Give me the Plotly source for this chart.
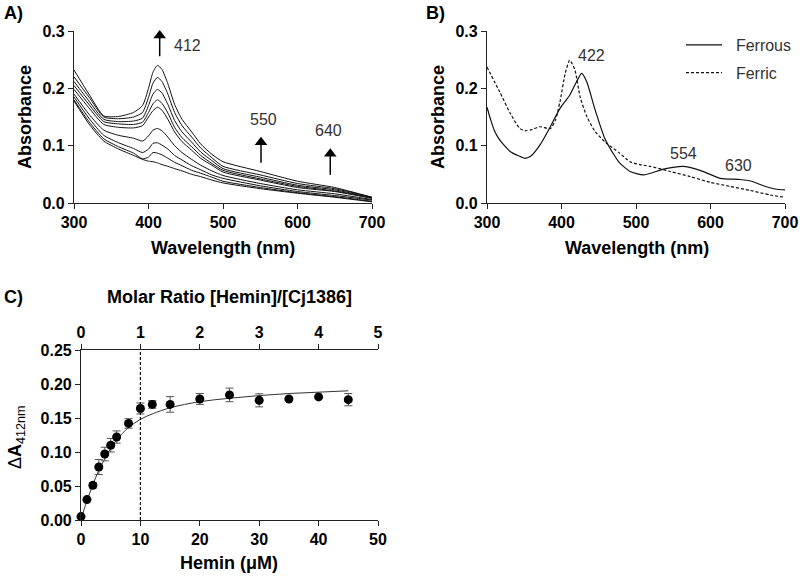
import plotly.graph_objects as go

# ---------------- Panel A: hemin titration spectra ----------------
wavelength_a = [300, 320, 340, 360, 380, 392, 400, 406, 412, 418, 426, 435, 445, 458, 470, 485, 500, 550, 600, 650, 700]
spectrum_1 = [0.178, 0.138, 0.108, 0.094, 0.083, 0.076, 0.073, 0.072, 0.070, 0.067, 0.064, 0.060, 0.056, 0.050, 0.046, 0.040, 0.035, 0.025, 0.017, 0.010, 0.002]
spectrum_2 = [0.180, 0.142, 0.112, 0.098, 0.087, 0.077, 0.080, 0.088, 0.087, 0.084, 0.078, 0.071, 0.065, 0.057, 0.052, 0.045, 0.038, 0.027, 0.018, 0.011, 0.003]
spectrum_3 = [0.185, 0.148, 0.118, 0.105, 0.095, 0.088, 0.094, 0.104, 0.105, 0.101, 0.094, 0.083, 0.075, 0.065, 0.058, 0.049, 0.043, 0.030, 0.020, 0.013, 0.005]
spectrum_4 = [0.190, 0.155, 0.127, 0.118, 0.113, 0.108, 0.117, 0.127, 0.130, 0.126, 0.115, 0.100, 0.088, 0.076, 0.066, 0.056, 0.048, 0.034, 0.023, 0.016, 0.006]
spectrum_5 = [0.198, 0.166, 0.137, 0.132, 0.131, 0.135, 0.150, 0.161, 0.167, 0.162, 0.146, 0.124, 0.107, 0.092, 0.078, 0.066, 0.054, 0.040, 0.027, 0.020, 0.008]
spectrum_6 = [0.205, 0.172, 0.142, 0.138, 0.137, 0.141, 0.158, 0.173, 0.180, 0.174, 0.157, 0.132, 0.114, 0.098, 0.083, 0.069, 0.057, 0.042, 0.029, 0.021, 0.009]
spectrum_7 = [0.212, 0.178, 0.146, 0.142, 0.143, 0.148, 0.170, 0.190, 0.198, 0.192, 0.172, 0.144, 0.124, 0.106, 0.089, 0.074, 0.060, 0.045, 0.031, 0.023, 0.009]
spectrum_8 = [0.220, 0.185, 0.150, 0.147, 0.150, 0.158, 0.184, 0.209, 0.219, 0.212, 0.190, 0.158, 0.135, 0.115, 0.096, 0.079, 0.064, 0.049, 0.034, 0.025, 0.010]
spectrum_9 = [0.232, 0.190, 0.152, 0.151, 0.158, 0.170, 0.200, 0.228, 0.240, 0.233, 0.208, 0.172, 0.146, 0.124, 0.103, 0.085, 0.072, 0.055, 0.038, 0.027, 0.010]
spectra_a = [spectrum_1, spectrum_2, spectrum_3, spectrum_4, spectrum_5,
             spectrum_6, spectrum_7, spectrum_8, spectrum_9]

# peak arrows in panel A (wavelength, tail absorbance, tip absorbance)
arrow_wl = [415, 551, 644]
arrow_tail = [0.256, 0.070, 0.049]
arrow_tip = [0.292, 0.106, 0.086]

# ---------------- Panel B: ferrous vs ferric ----------------
ferrous_wl = [300, 305, 310, 317, 331, 343, 351, 358, 371, 385, 398, 411, 420, 427, 434, 445, 458,
              470, 478, 492, 510, 537, 563, 586, 613, 640, 655, 671, 689, 700]
ferrous_abs = [0.167, 0.145, 0.126, 0.110, 0.090, 0.082, 0.078, 0.081, 0.101, 0.133, 0.165, 0.188, 0.211,
               0.226, 0.211, 0.163, 0.113, 0.085, 0.070, 0.055, 0.049, 0.059, 0.064, 0.057, 0.043, 0.041,
               0.038, 0.030, 0.024, 0.023]
ferric_wl = [300, 317, 331, 344, 351, 360, 371, 385, 392, 398, 405, 411, 418, 425, 434, 445, 458, 478,
             492, 505, 519, 546, 573, 600, 626, 653, 680, 700]
ferric_abs = [0.237, 0.194, 0.157, 0.130, 0.126, 0.128, 0.133, 0.130, 0.145, 0.177, 0.226, 0.249, 0.232,
              0.185, 0.151, 0.125, 0.107, 0.087, 0.072, 0.067, 0.064, 0.055, 0.046, 0.036, 0.029, 0.022,
              0.014, 0.010]

# ---------------- Panel C: binding titration ----------------
hemin_uM = [0, 1, 2, 3, 4, 5, 6, 8, 10, 12, 15, 20, 25, 30, 35, 40, 45]
delta_a412 = [0.005, 0.030, 0.051, 0.078, 0.097, 0.110, 0.122, 0.142, 0.164, 0.170, 0.170, 0.178,
              0.184, 0.176, 0.178, 0.181, 0.177]
delta_a412_err = [0.0, 0.0, 0.004, 0.011, 0.010, 0.010, 0.009, 0.007, 0.008, 0.0056, 0.0115, 0.008,
                  0.010, 0.0096, 0.0, 0.0, 0.009]
fit_x = [0, 0.5, 1, 2, 3, 4, 5, 6, 8, 10, 12, 15, 20, 25, 30, 35, 40, 45]
fit_y = [0.0, 0.015, 0.028, 0.052, 0.073, 0.090, 0.105, 0.118, 0.136, 0.148, 0.156, 0.165, 0.174,
         0.179, 0.183, 0.186, 0.188, 0.190]
protein_uM = 10          # 1:1 molar ratio line
ratio_ticks = [0, 1, 2, 3, 4, 5]

FONT = "Liberation Sans"
AXC = "#222222"

fig = go.Figure()

for s in spectra_a:
    fig.add_trace(go.Scatter(x=wavelength_a, y=s, mode="lines",
                             line=dict(color="#111", width=1, shape="spline", smoothing=0.6),
                             showlegend=False, xaxis="x", yaxis="y", hoverinfo="skip"))

# arrows: shafts + heads
for w, t0, t1 in zip(arrow_wl, arrow_tail, arrow_tip):
    fig.add_trace(go.Scatter(x=[w, w], y=[t0, t1], mode="lines", line=dict(color="#000", width=1.5),
                             showlegend=False, xaxis="x", yaxis="y", hoverinfo="skip"))
fig.add_trace(go.Scatter(x=arrow_wl, y=arrow_tip, mode="markers",
                         marker=dict(symbol="triangle-up", size=11, color="#000"),
                         showlegend=False, cliponaxis=False, xaxis="x", yaxis="y", hoverinfo="skip"))

fig.add_trace(go.Scatter(x=ferrous_wl, y=ferrous_abs, mode="lines", name="&nbsp;&nbsp;Ferrous", legendgroup="fe2",
                         line=dict(color="#111", width=1.2, shape="spline", smoothing=0.6),
                         xaxis="x2", yaxis="y2"))
fig.add_trace(go.Scatter(x=ferric_wl, y=ferric_abs, mode="lines", name="&nbsp;&nbsp;Ferric", legendgroup="fe3",
                         line=dict(color="#111", width=1.2, dash="3px,2px", shape="spline", smoothing=0.6),
                         xaxis="x2", yaxis="y2"))

fig.add_trace(go.Scatter(x=fit_x, y=fit_y, mode="lines", line=dict(color="#333", width=1, shape="spline"),
                         showlegend=False, xaxis="x3", yaxis="y3"))
fig.add_trace(go.Scatter(x=hemin_uM, y=delta_a412, mode="markers",
                         marker=dict(color="#000", size=9),
                         error_y=dict(type="data", array=delta_a412_err, color="#555", thickness=1, width=4),
                         showlegend=False, cliponaxis=False, xaxis="x3", yaxis="y3"))
# invisible trace to carry the top (molar ratio) axis
fig.add_trace(go.Scatter(x=ratio_ticks, y=[None] * len(ratio_ticks), mode="markers",
                         showlegend=False, xaxis="x4", yaxis="y3", hoverinfo="skip"))

tickfont = dict(family=FONT, size=16, color="#000", weight="bold")
common = dict(showgrid=False, zeroline=False, showline=True, linecolor=AXC, linewidth=1.2,
              ticks="outside", ticklen=5, tickwidth=1.2, tickcolor=AXC, tickfont=tickfont,
              automargin=False)

yA = [1 - 203 / 581, 1 - 31 / 581]
fig.update_layout(
    template="none",
    width=800, height=581, margin=dict(l=0, r=0, t=0, b=0, pad=0, autoexpand=False),
    paper_bgcolor="white", plot_bgcolor="white",
    font=dict(family=FONT, color="#000"),
    xaxis=dict(domain=[74 / 800, 372 / 800], anchor="y", range=[300, 700], tickvals=[300, 400, 500, 600, 700], **common),
    yaxis=dict(domain=yA, anchor="x", range=[0, 0.3], tickvals=[0, 0.1, 0.2, 0.3], tickformat=".1f", **common),
    xaxis2=dict(domain=[487 / 800, 785 / 800], anchor="y2", range=[300, 700], tickvals=[300, 400, 500, 600, 700], **common),
    yaxis2=dict(domain=yA, anchor="x2", range=[0, 0.3], tickvals=[0, 0.1, 0.2, 0.3], tickformat=".1f", **common),
    xaxis3=dict(domain=[81 / 800, 378 / 800], anchor="y3", range=[0, 50], tickvals=[0, 10, 20, 30, 40, 50], **common),
    yaxis3=dict(domain=[1 - 520 / 581, 1 - 350 / 581], anchor="x3", range=[0, 0.25],
                tickvals=[0, 0.05, 0.10, 0.15, 0.20, 0.25], tickformat=".2f", **common),
    xaxis4=dict(overlaying="x3", side="top", anchor="y3", range=[0, 5], tickvals=ratio_ticks, **common),
    legend=dict(x=681 / 800, y=1 - 28 / 581, xanchor="left", yanchor="top", bgcolor="rgba(0,0,0,0)",
                font=dict(family=FONT, size=16, color="#333"), itemwidth=36, tracegroupgap=4),
)

fig.add_shape(type="line", xref="x3", yref="y3", x0=protein_uM, x1=protein_uM, y0=0, y1=0.25,
              line=dict(color="#111", width=1.2, dash="3px,2px"))

ann = []
title_font = dict(family=FONT, size=18, color="#000", weight="bold")
def paper_text(text, x, y, angle=0, font=title_font, xanchor="center"):
    ann.append(dict(text=text, xref="paper", yref="paper", x=x / 800, y=1 - y / 581, showarrow=False,
                    textangle=angle, font=font, xanchor=xanchor, yanchor="middle"))

paper_text("A)", 2, 13, xanchor="left")
paper_text("B)", 424, 13, xanchor="left")
paper_text("C)", 2, 297, xanchor="left")
paper_text("Absorbance", 25, 117, angle=-90)
paper_text("Wavelength (nm)", 223, 248)
paper_text("Absorbance", 438, 117, angle=-90)
paper_text("Wavelength (nm)", 637, 248)
paper_text("Molar Ratio [Hemin]/[Cj1386]", 229, 297)
paper_text("Hemin (μM)", 229, 563)
paper_text("<span style='font-weight:normal'>Δ</span>A<sub><span style='font-weight:normal'>412nm</span></sub>", 16, 437, angle=-90)

num_font = dict(family=FONT, size=16, color="#333")
def data_text(text, x, y, xr, yr):
    ann.append(dict(text=text, xref=xr, yref=yr, x=x, y=y, showarrow=False, font=num_font,
                    xanchor="center", yanchor="middle"))

data_text("412", 453, 0.275, "x", "y")
data_text("550", 554, 0.146, "x", "y")
data_text("640", 641, 0.127, "x", "y")
data_text("422", 440, 0.257, "x2", "y2")
data_text("554", 564, 0.087, "x2", "y2")
data_text("630", 638, 0.065, "x2", "y2")

fig.update_layout(annotations=ann)
fig.write_html("out.html", config={"displayModeBar": False},
               post_script="document.body.style.margin='0';document.body.style.padding='0';")
